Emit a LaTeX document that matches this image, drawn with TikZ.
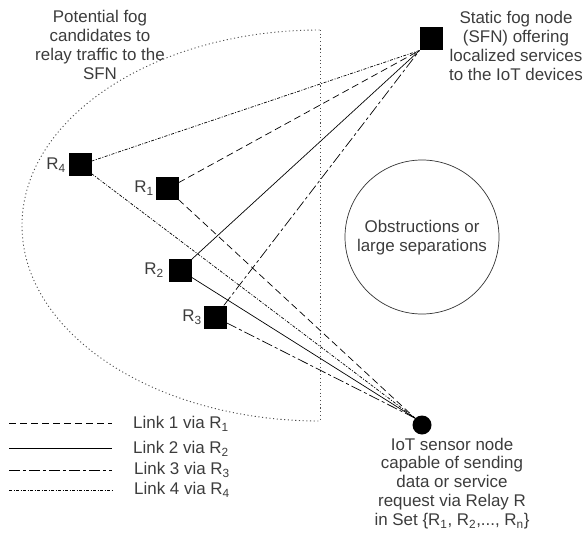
\documentclass[tikz,border=0pt]{standalone}
\usepackage{fontspec}
\setmainfont{Liberation Sans}
\definecolor{txtgray}{RGB}{60,60,60}
\begin{document}
\begin{tikzpicture}[x=1bp,y=-1bp,
  relay/.style={fill=black,minimum size=23bp,inner sep=0pt,outer sep=0pt,draw=none},
  sensor/.style={circle,fill=black,minimum size=19bp,inner sep=0pt,outer sep=0pt},
  txt/.style={text=txtgray,font=\fontsize{17}{19}\selectfont,align=center,inner sep=0pt},
  conn/.style={line width=0.7bp,black},
  linkone/.style={dash pattern=on 7bp off 4bp},
  linktwo/.style={},
  linkthree/.style={dash pattern=on 11bp off 3bp on 3bp off 3bp},
  linkfour/.style={dash pattern=on 3bp off 1.5bp on 1bp off 1.5bp},
  bound/.style={black!70, dash pattern=on 1.1bp off 2.6bp, line width=0.9bp},
  obst/.style={draw=black!80,line width=0.7bp,circle,minimum size=154bp,inner sep=0pt}]
\useasboundingbox (0,0) rectangle (586,534);

% boundary of fog candidates region
\begin{scope}
  \clip (0,0) rectangle (320,534);
  \draw[bound] (320,225.5) ellipse [x radius=298bp, y radius=195.5bp];
\end{scope}
\coordinate (bt) at (320,30);
\coordinate (bb) at (320,421);
\draw[bound] (bt) -- (bb);

% obstruction
\node[obst] (obs) at (422,237) {};
\node[txt] (obstxt) at (422,237.5) {Obstructions or\\large separations};

% nodes
\node[relay] (sfn) at (431,39) {};
\node[relay] (R4) at (80,165) {};
\node[relay] (R1) at (167,189) {};
\node[relay] (R2) at (180,270) {};
\node[relay] (R3) at (215,317) {};
\node[sensor] (iot) at (422,425) {};

% labels
\node[txt] (l4) at (56,165) {R\textsubscript{4}};
\node[txt] (l1) at (144,188) {R\textsubscript{1}};
\node[txt] (l2) at (154,270) {R\textsubscript{2}};
\node[txt] (l3) at (192,317) {R\textsubscript{3}};

\node[txt] (pot) at (100,45) {Potential fog\\candidates to\\relay traffic to the\\SFN};
\node[txt] (sfntxt) at (516,46) {Static fog node\\(SFN) offering\\localized services\\to the IoT devices};
\node[txt] (iottxt) at (452,483.5) {IoT sensor node\\capable of sending\\data or service\\request via Relay R\\in Set \{R\textsubscript{1}, R\textsubscript{2},..., R\textsubscript{n}\}};

% links
\draw[conn,linkone] (R1) -- (sfn.south west);
\draw[conn,linkone] (R1) -- (iot.north west);
\draw[conn,linktwo] (R2) -- (sfn.south west);
\draw[conn,linktwo] (R2) -- (iot.north west);
\draw[conn,linkthree] (R3) -- (sfn.south west);
\draw[conn,linkthree] (R3) -- (iot.north west);
\draw[conn,linkfour] (R4) -- (sfn.south west);
\draw[conn,linkfour] (R4) -- (iot.north west);

% legend
\coordinate (a1) at (9,423);  \coordinate (b1) at (112,423);
\coordinate (a2) at (9,448);  \coordinate (b2) at (112,448);
\coordinate (a3) at (9,470);  \coordinate (b3) at (112,470);
\coordinate (a4) at (9,490);  \coordinate (b4) at (112,490);
\draw[conn,linkone] (a1) -- (b1);
\draw[conn,linktwo] (a2) -- (b2);
\draw[conn,linkthree] (a3) -- (b3);
\draw[conn,linkfour] (a4) -- (b4);
\node[txt,anchor=west] (t1) at (133,424) {Link 1 via R\textsubscript{1}};
\node[txt,anchor=west] (t2) at (133,449) {Link 2 via R\textsubscript{2}};
\node[txt,anchor=west] (t3) at (134,470) {Link 3 via R\textsubscript{3}};
\node[txt,anchor=west] (t4) at (134,490) {Link 4 via R\textsubscript{4}};
\end{tikzpicture}
\end{document}
